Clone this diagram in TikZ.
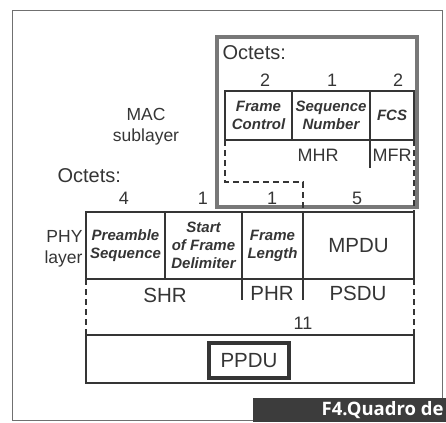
\documentclass[tikz,border=0pt]{standalone}
\usepackage{fontspec}
\setmainfont{Liberation Sans}
\newfontfamily\bannerfont{Open Sans}
\usetikzlibrary{positioning,calc}
\definecolor{inkgray}{HTML}{353535}
\definecolor{macgray}{HTML}{787878}
\definecolor{framegray}{HTML}{707070}
\definecolor{bannergray}{HTML}{3C3C3C}

\begin{document}
\begin{tikzpicture}[
  x=1pt, y=-1pt,
  line width=1.1pt,
  field/.style={draw=inkgray, rectangle, inner sep=0pt, outer sep=0pt, align=center, text=inkgray, font=\fontsize{15}{18}\selectfont\bfseries\itshape},
  plainlbl/.style={text=inkgray, inner sep=0pt, font=\fontsize{18}{20}\selectfont},
  biglbl/.style={text=inkgray, inner sep=0pt, font=\fontsize{20.5}{22}\selectfont},
  octlbl/.style={text=inkgray, inner sep=0pt, anchor=west, font=\fontsize{20}{22}\selectfont},
  layerlbl/.style={text=inkgray, inner sep=0pt, font=\fontsize{17.5}{21}\selectfont},
  dashline/.style={draw=inkgray, line width=1.2pt, dash pattern=on 6pt off 4pt},
  tickline/.style={draw=inkgray, line width=1.1pt},
  macbox/.style={draw=macgray, line width=4pt, minimum width=200pt, minimum height=170pt, inner sep=0pt},
  pdubox/.style={draw=inkgray, line width=4.5pt, minimum width=80pt, minimum height=35pt, inner sep=0pt, text=inkgray, font=\fontsize{20.5}{22}\selectfont}
]
  \useasboundingbox (0,0) rectangle (446,422);

  \draw[framegray, line width=0.9pt] (253,420) -- (12,420) -- (12,10) -- (442,10) -- (442,398);

  \node[macbox] (mac) at (317,122) {};
  \node[octlbl] (macoct) at (222,53) {Octets:};
  \node[plainlbl] (na) at (265,80) {2};
  \node[plainlbl] (nb) at (332,80) {1};
  \node[plainlbl] (nc) at (398,80) {2};

  \node[field, minimum width=67pt, minimum height=49pt] (fc) at (258.5,115.5) {Frame\\Control};
  \node[field, minimum width=78pt, minimum height=49pt, right=0pt of fc] (sn) {Sequence\\Number};
  \node[field, minimum width=44pt, minimum height=49pt, right=0pt of sn] (fcs) {FCS};

  \node[plainlbl] (mhr) at (318,155) {MHR};
  \node[plainlbl] (mfr) at (392,155) {MFR};
  \coordinate (mfrend) at (370,168);
  \draw[tickline] (fcs.south west) -- (mfrend);

  \node[layerlbl, align=center] (maclayer) at (146,127) {MAC\\sublayer};
  \node[octlbl] (phyoct) at (57,176) {Octets:};

  \node[plainlbl] (nd) at (124,198) {4};
  \node[plainlbl] (ne) at (203,198) {1};
  \node[plainlbl] (nf) at (272,198) {1};
  \node[plainlbl] (ng) at (357,198) {5};

  \node[field, minimum width=79pt, minimum height=67pt] (pre) at (125.5,245.5) {Preamble\\Sequence};
  \node[field, minimum width=77pt, minimum height=67pt, right=0pt of pre] (sfd) {Start\\of Frame\\Delimiter};
  \node[field, minimum width=61pt, minimum height=67pt, right=0pt of sfd] (fl) {Frame\\Length};
  \node[field, minimum width=111pt, minimum height=67pt, right=0pt of fl, font=\fontsize{20.5}{22}\selectfont] (mpdu) {MPDU};

  \node[layerlbl, align=right, anchor=east] (phylayer) at (83,249) {PHY\\layer};

  \draw[dashline] (fc.south west) |- ($(fl.north east)+(0,-30)$) -- (fl.north east);
  \draw[dashline] (fcs.south east) -- (mpdu.north east);

  \node[biglbl] (shr) at (165,295) {SHR};
  \node[biglbl] (phr) at (272,293) {PHR};
  \node[biglbl] (psdu) at (358,293) {PSDU};
  \coordinate (phrl) at (242,300);
  \coordinate (phrr) at (303,300);
  \draw[tickline] (fl.south west) -- (phrl);
  \draw[tickline] (fl.south east) -- (phrr);

  \node[plainlbl] (total) at (303,323.5) {11};

  \node[field, minimum width=328pt, minimum height=48pt] (ppdu) at (250,359) {};
  \node[pdubox] (ppdulbl) at (249,360.5) {PPDU};
  \draw[dashline] (pre.south west) -- (ppdu.north west);
  \draw[dashline] (mpdu.south east) -- (ppdu.north east);

  \fill[bannergray] (253,398) rectangle (446,422);
  \node[text=white, inner sep=0pt, anchor=east, font=\bannerfont\bfseries\fontsize{18.5}{20}\selectfont] (caption) at (444,410) {F4.Quadro de};
\end{tikzpicture}
\end{document}
